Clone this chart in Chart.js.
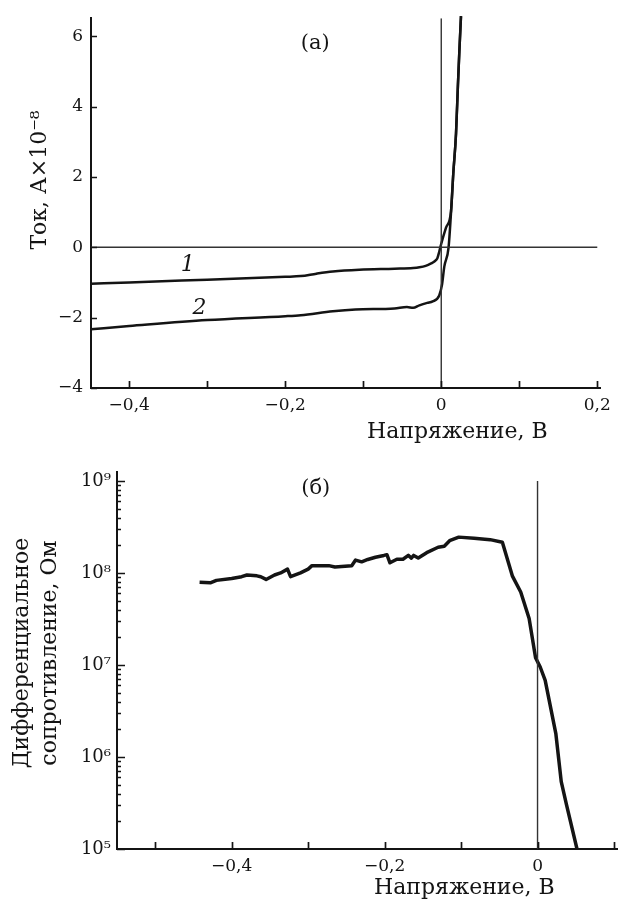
<!DOCTYPE html>
<html>
<head>
<meta charset="utf-8">
<script src="https://cdn.jsdelivr.net/npm/chart.js@4/dist/chart.umd.min.js"></script>
<style>
  html, body { margin: 0; padding: 0; background: #ffffff; }
  #wrapA { position: absolute; left: 0; top: 0; width: 621px; height: 450px; }
  #wrapB { position: absolute; left: 0; top: 450px; width: 621px; height: 449px; }
</style>
</head>
<body>
<div id="wrapA"><canvas id="chartA" width="621" height="450"></canvas></div>
<div id="wrapB"><canvas id="chartB" width="621" height="449"></canvas></div>
<script>
// ---------- Panel (a): current vs voltage ----------
const voltage1 = [-0.449, -0.40, -0.30, -0.20, -0.18, -0.16, -0.139, -0.105, -0.06, -0.036, -0.028, -0.020, -0.013, -0.008, -0.005, -0.0025, 0.0, 0.006, 0.0125, 0.0154, 0.0189, 0.0214, 0.0232, 0.0253];
const current1 = [-1.04, -1.00, -0.92, -0.84, -0.82, -0.75, -0.69, -0.64, -0.61, -0.59, -0.57, -0.53, -0.46, -0.39, -0.31, -0.12, 0.10, 0.55, 1.02, 2.09, 3.22, 4.63, 5.57, 6.57];
const voltage2 = [-0.449, -0.40, -0.30, -0.20, -0.18, -0.139, -0.11, -0.06, -0.044, -0.036, -0.028, -0.018, -0.011, -0.0026, 0.001, 0.0039, 0.0094, 0.0125, 0.0154, 0.0189, 0.0214, 0.0232, 0.0253];
const current2 = [-2.33, -2.24, -2.07, -1.96, -1.93, -1.82, -1.77, -1.74, -1.70, -1.72, -1.65, -1.58, -1.54, -1.37, -1.06, -0.55, 0.0, 0.98, 2.09, 3.22, 4.63, 5.57, 6.57];
const xTicksA = [-0.4, -0.3, -0.2, -0.1, 0, 0.1, 0.2];
const xLabelsA = [-0.4, -0.2, 0, 0.2];
const yTicksA = [-4, -2, 0, 2, 4, 6];
const xRangeA = [-0.449, 0.2035];
const yRangeA = [-4, 6.51];

// ---------- Panel (б): differential resistance ----------
const voltageB = [-0.442, -0.428, -0.420, -0.400, -0.387, -0.380, -0.367, -0.362, -0.355, -0.344, -0.336, -0.327, -0.323, -0.310, -0.300, -0.295, -0.273, -0.265, -0.243, -0.238, -0.230, -0.222, -0.212, -0.201, -0.197, -0.193, -0.184, -0.176, -0.169, -0.165, -0.162, -0.156, -0.145, -0.130, -0.122, -0.115, -0.103, -0.083, -0.062, -0.046, -0.033, -0.022, -0.011, -0.0026, 0.0035, 0.010, 0.024, 0.031, 0.038, 0.0516];
const resistB = [7.9e7, 7.8e7, 8.3e7, 8.7e7, 9.1e7, 9.5e7, 9.3e7, 9.1e7, 8.5e7, 9.5e7, 1.0e8, 1.1e8, 9.1e7, 1.0e8, 1.1e8, 1.2e8, 1.2e8, 1.16e8, 1.2e8, 1.38e8, 1.32e8, 1.4e8, 1.48e8, 1.55e8, 1.58e8, 1.29e8, 1.41e8, 1.41e8, 1.55e8, 1.45e8, 1.55e8, 1.45e8, 1.66e8, 1.9e8, 1.95e8, 2.24e8, 2.45e8, 2.38e8, 2.3e8, 2.16e8, 9.3e7, 6.2e7, 3.2e7, 1.2e7, 9.5e6, 6.8e6, 1.78e6, 5.4e5, 3.0e5, 1.0e5];
const xTicksB = [-0.5, -0.4, -0.3, -0.2, -0.1, 0, 0.1];
const xLabelsB = [-0.4, -0.2, 0];
const yDecadesB = [1e5, 1e6, 1e7, 1e8, 1e9];
const xRangeB = [-0.550, 0.105];
const yRangeB = [1e5, 1.25e9];

const FONT = "'DejaVu Serif', 'Liberation Serif', serif";
const INK = '#141414';

function fmtNum(v) {
  const r = Math.round(v * 10) / 10;
  if (Math.abs(r) < 1e-9) return '0';
  const s = Math.abs(r).toFixed(Number.isInteger(r) ? 0 : 1).replace('.', ',');
  return (r < 0 ? '\u2212' : '') + s;
}
const SUP = {'0':'\u2070','1':'\u00b9','2':'\u00b2','3':'\u00b3','4':'\u2074','5':'\u2075','6':'\u2076','7':'\u2077','8':'\u2078','9':'\u2079'};
function fmtPow(v) {
  const e = Math.round(Math.log10(v));
  return '10' + String(e).split('').map(c => SUP[c]).join('');
}
function isLabeled(v, list) { return list.some(t => Math.abs(t - v) < 1e-9); }

const pts = (xs, ys) => xs.map((x, i) => ({x: x, y: ys[i]}));

// plugin: inward tick marks + texts
const decor = {
  id: 'decor',
  afterDraw(chart) {
    const o = chart.options.plugins.decor;
    if (!o) return;
    const ctx = chart.ctx;
    const xs = chart.scales.x, ys = chart.scales.y;
    const area = chart.chartArea;
    ctx.save();
    ctx.strokeStyle = INK;
    ctx.lineWidth = 1.7;
    ctx.beginPath();
    o.xTicks.forEach(v => {
      const px = Math.round(xs.getPixelForValue(v)) + 0.5;
      ctx.moveTo(px, area.bottom);
      ctx.lineTo(px, area.bottom - o.xLen);
    });
    o.yTicks.forEach(t => {
      const py = Math.round(ys.getPixelForValue(t.v)) + 0.5;
      ctx.moveTo(area.left, py);
      ctx.lineTo(area.left + t.len, py);
    });
    ctx.stroke();
    // texts in data coordinates
    ctx.fillStyle = INK;
    o.notes.forEach(n => {
      ctx.font = n.font;
      ctx.textAlign = 'center';
      ctx.textBaseline = 'middle';
      ctx.fillText(n.text, xs.getPixelForValue(n.x), ys.getPixelForValue(n.y));
    });
    // axis titles
    o.titles.forEach(t => {
      ctx.save();
      ctx.font = t.font;
      ctx.textBaseline = 'middle';
      ctx.textAlign = t.align || 'center';
      ctx.translate(t.px, t.py);
      if (t.rot) ctx.rotate(t.rot);
      ctx.fillText(t.text, 0, 0);
      ctx.restore();
    });
    ctx.restore();
  }
};

const common = {
  responsive: false,
  animation: false,
  devicePixelRatio: 1,
  events: [],
};

// ---------- Chart A ----------
new Chart(document.getElementById('chartA'), {
  type: 'line',
  data: {
    datasets: [
      { data: pts([xRangeA[0], 0.2], [0, 0]), borderColor: '#333333', borderWidth: 1.4, pointRadius: 0 },
      { data: pts([0, 0], [yRangeA[0], yRangeA[1]]), borderColor: '#333333', borderWidth: 1.4, pointRadius: 0 },
      { data: pts(voltage1, current1), borderColor: INK, borderWidth: 2.5, pointRadius: 0, cubicInterpolationMode: 'monotone', clip: false },
      { data: pts(voltage2, current2), borderColor: INK, borderWidth: 2.5, pointRadius: 0, cubicInterpolationMode: 'monotone', clip: false }
    ]
  },
  options: Object.assign({}, common, {
    layout: { padding: { top: 17, right: 21, left: 0, bottom: 0 } },
    plugins: {
      legend: { display: false }, tooltip: { enabled: false },
      decor: {
        xTicks: xTicksA, xLen: 7,
        yTicks: yTicksA.map(v => ({v: v, len: 6})),
        notes: [
          { text: '(a)', x: -0.1615, y: 5.79, font: "21px " + FONT },
          { text: '1', x: -0.325, y: -0.51, font: "italic 22px " + FONT },
          { text: '2', x: -0.31, y: -1.73, font: "italic 22px " + FONT }
        ],
        titles: [
          { text: 'Ток, А\u00d710\u207b\u2078', px: 40, py: 180, rot: -Math.PI / 2, font: "22px " + FONT },
          { text: 'Напряжение, В', px: 367, py: 432, align: 'left', font: "22px " + FONT }
        ]
      }
    },
    scales: {
      x: {
        type: 'linear', min: xRangeA[0], max: xRangeA[1],
        afterFit: s => { s.height = 62; },
        afterBuildTicks: s => { s.ticks = xTicksA.map(v => ({value: v})); },
        grid: { display: false, drawTicks: false },
        border: { display: true, color: INK, width: 2 },
        ticks: { autoSkip: false, maxRotation: 0, padding: 7, color: INK, font: { family: FONT, size: 17 },
                 callback: v => isLabeled(v, xLabelsA) ? fmtNum(v) : '' }
      },
      y: {
        type: 'linear', min: yRangeA[0], max: yRangeA[1],
        afterFit: s => { s.width = 91; },
        afterBuildTicks: s => { s.ticks = yTicksA.map(v => ({value: v})); },
        grid: { display: false, drawTicks: false },
        border: { display: true, color: INK, width: 2 },
        ticks: { autoSkip: false, padding: 8, color: INK, font: { family: FONT, size: 17 },
                 callback: v => fmtNum(v) }
      }
    }
  }),
  plugins: [decor]
});

// ---------- Chart B ----------
const yTicksB = [];
yDecadesB.forEach(d => {
  yTicksB.push({v: d, len: 8});
  if (d < yDecadesB[yDecadesB.length - 1]) for (let k = 2; k <= 9; k++) yTicksB.push({v: d * k, len: 4});
});

new Chart(document.getElementById('chartB'), {
  type: 'line',
  data: {
    datasets: [
      { data: pts([0, 0], [yRangeB[0], 1e9]), borderColor: '#333333', borderWidth: 1.4, pointRadius: 0 },
      { data: pts(voltageB, resistB), borderColor: INK, borderWidth: 3.5, pointRadius: 0, tension: 0, borderJoinStyle: 'round' }
    ]
  },
  options: Object.assign({}, common, {
    layout: { padding: { top: 22, right: 0, left: 0, bottom: 0 } },
    plugins: {
      legend: { display: false }, tooltip: { enabled: false },
      decor: {
        xTicks: xTicksB, xLen: 7,
        yTicks: yTicksB,
        notes: [
          { text: '(б)', x: -0.29, y: 8.3e8, font: "21px " + FONT }
        ],
        titles: [
          { text: 'Дифференциальное', px: 22, py: 203, rot: -Math.PI / 2, font: "22px " + FONT },
          { text: 'сопротивление, Ом', px: 50, py: 203, rot: -Math.PI / 2, font: "22px " + FONT },
          { text: 'Напряжение, В', px: 374, py: 438, align: 'left', font: "22px " + FONT }
        ]
      }
    },
    scales: {
      x: {
        type: 'linear', min: xRangeB[0], max: xRangeB[1],
        afterFit: s => { s.height = 50; },
        afterBuildTicks: s => { s.ticks = xTicksB.map(v => ({value: v})); },
        grid: { display: false, drawTicks: false },
        border: { display: true, color: INK, width: 2 },
        ticks: { autoSkip: false, maxRotation: 0, padding: 7, color: INK, font: { family: FONT, size: 17 },
                 callback: v => isLabeled(v, xLabelsB) ? fmtNum(v) : '' }
      },
      y: {
        type: 'logarithmic', min: yRangeB[0], max: yRangeB[1],
        afterFit: s => { s.width = 117; },
        afterBuildTicks: s => { s.ticks = yDecadesB.map(v => ({value: v})); },
        grid: { display: false, drawTicks: false },
        border: { display: true, color: INK, width: 2 },
        ticks: { autoSkip: false, padding: 6, color: INK, font: { family: FONT, size: 18 },
                 callback: v => fmtPow(v) }
      }
    }
  }),
  plugins: [decor]
});
</script>
</body>
</html>
